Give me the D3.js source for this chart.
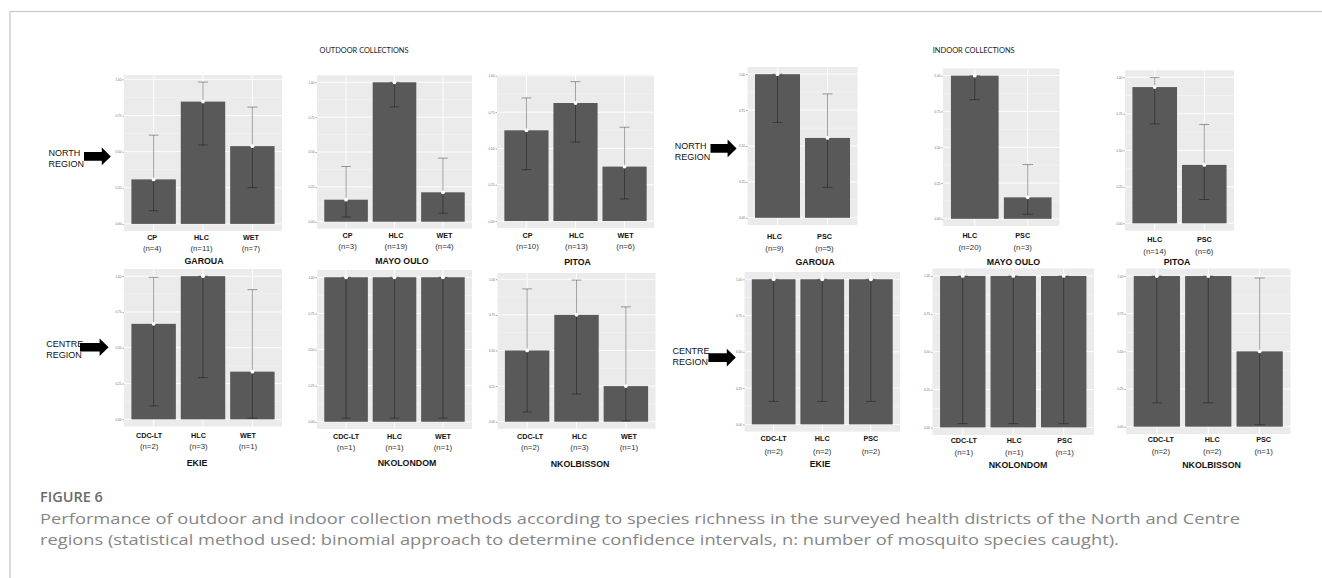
<!DOCTYPE html>
<html>
<head>
<meta charset="utf-8">
<script src="https://cdn.jsdelivr.net/npm/d3@7"></script>
<style>
  html, body { margin: 0; padding: 0; background: #ffffff; }
  svg { display: block; }
</style>
</head>
<body>
<svg id="fig" width="1322" height="578"></svg>
<script>
// ---------------- data ----------------
// panels: outdoor North (3), indoor North (3), outdoor Centre (3), indoor Centre (3)
const sites = ["GAROUA", "MAYO OULO", "PITOA", "GAROUA", "MAYO OULO", "PITOA",
               "EKIE", "NKOLONDOM", "NKOLBISSON", "EKIE", "NKOLONDOM", "NKOLBISSON"];
const methods = [
  ["CP", "HLC", "WET"], ["CP", "HLC", "WET"], ["CP", "HLC", "WET"],
  ["HLC", "PSC"], ["HLC", "PSC"], ["HLC", "PSC"],
  ["CDC-LT", "HLC", "WET"], ["CDC-LT", "HLC", "WET"], ["CDC-LT", "HLC", "WET"],
  ["CDC-LT", "HLC", "PSC"], ["CDC-LT", "HLC", "PSC"], ["CDC-LT", "HLC", "PSC"]
];
const speciesN = [
  [4, 11, 7], [3, 19, 4], [10, 13, 6],
  [9, 5], [20, 3], [14, 6],
  [2, 3, 1], [1, 1, 1], [2, 3, 1],
  [2, 2, 2], [1, 1, 1], [2, 2, 1]
];
const proportion = [
  [0.308, 0.846, 0.538], [0.158, 1.000, 0.211], [0.625, 0.813, 0.375],
  [1.000, 0.556], [1.000, 0.150], [0.933, 0.400],
  [0.667, 1.000, 0.333], [1.000, 1.000, 1.000], [0.500, 0.750, 0.250],
  [1.000, 1.000, 1.000], [1.000, 1.000, 1.000], [1.000, 1.000, 0.500]
];
const ciLow = [
  [0.091, 0.546, 0.251], [0.034, 0.824, 0.061], [0.354, 0.544, 0.152],
  [0.664, 0.212], [0.832, 0.032], [0.681, 0.163],
  [0.094, 0.292, 0.008], [0.025, 0.025, 0.025], [0.068, 0.194, 0.006],
  [0.158, 0.158, 0.158], [0.025, 0.025, 0.025], [0.158, 0.158, 0.013]
];
const ciHigh = [
  [0.614, 0.981, 0.808], [0.396, 1.000, 0.456], [0.848, 0.960, 0.646],
  [1.000, 0.863], [1.000, 0.379], [0.998, 0.677],
  [0.992, 1.000, 0.906], [1.000, 1.000, 1.000], [0.932, 0.994, 0.806],
  [1.000, 1.000, 1.000], [1.000, 1.000, 1.000], [1.000, 1.000, 0.987]
];
const yTicks = [0, 0.25, 0.5, 0.75, 1];
const groupTitles = ["OUTDOOR COLLECTIONS", "INDOOR COLLECTIONS"];
const regionNames = [["NORTH", "REGION"], ["CENTRE", "REGION"]];
const figureLabel = "FIGURE 6";
const captionLines = [
  "Performance of outdoor and indoor collection methods according to species richness in the surveyed health districts of the North and Centre",
  "regions (statistical method used: binomial approach to determine confidence intervals, n: number of mosquito species caught)."
];

// ---------------- layout ----------------
const panelBox = [
  { x0: 124,   x1: 282,    y0: 75,    y1: 231,   catY: 237,   nY: 248.3, catDx: -1.5, siteX: 204,    siteY: 261 },
  { x0: 317,   x1: 472,    y0: 75.3,  y1: 228.7, catY: 235.5, nY: 246.7, catDx: 1.5,  siteX: 402,    siteY: 260.5 },
  { x0: 497,   x1: 654,    y0: 74.7,  y1: 228,   catY: 235,   nY: 246.7, catDx: 1,    siteX: 577.5,  siteY: 261.5 },
  { x0: 747.5, x1: 857.5,  y0: 67,    y1: 225,   catY: 236.7, nY: 247.8, catDx: -3,   siteX: 815,    siteY: 261.7 },
  { x0: 943,   x1: 1059.5, y0: 68.5,  y1: 226,   catY: 235,   nY: 246.8, catDx: -5,   siteX: 1013.5, siteY: 261.7 },
  { x0: 1125,  x1: 1234,   y0: 70.3,  y1: 230.6, catY: 239.3, nY: 251,   catDx: 0,    siteX: 1177,   siteY: 261.7 },
  { x0: 124,   x1: 282,    y0: 269,   y1: 426.5, catY: 435,   nY: 446.5, catDx: -4.5, siteX: 197,    siteY: 462.7 },
  { x0: 317,   x1: 472,    y0: 270,   y1: 429,   catY: 436,   nY: 446.8, catDx: 0,    siteX: 407,    siteY: 462.7 },
  { x0: 497.5, x1: 655.5,  y0: 273,   y1: 428.8, catY: 436.5, nY: 447.5, catDx: 3,    siteX: 580,    siteY: 463.3 },
  { x0: 744.5, x1: 900,    y0: 272,   y1: 431.6, catY: 438.5, nY: 451,   catDx: 0,    siteX: 820,    siteY: 463.3 },
  { x0: 932.5, x1: 1094,   y0: 268.4, y1: 435,   catY: 440.5, nY: 452,   catDx: 1,    siteX: 1018,   siteY: 465 },
  { x0: 1126,  x1: 1290.5, y0: 268.5, y1: 434.2, catY: 439.3, nY: 451.7, catDx: 4,    siteX: 1211.6, siteY: 464.3 }
];
const titleLayout = [
  { x: 364, y: 53, len: 89 },
  { x: 973.7, y: 53, len: 82 }
];
const regionLayout = [
  { region: 0, tx: 48.4,  ty: 152.7, ax0: 84,    ax1: 110.8, ay: 156.4 },
  { region: 0, tx: 674.7, ty: 145.7, ax0: 710.5, ax1: 736.6, ay: 148.4 },
  { region: 1, tx: 46.3,  ty: 344,   ax0: 80,    ax1: 108.6, ay: 347.2 },
  { region: 1, tx: 672.6, ty: 351,   ax0: 708.4, ax1: 735.8, ay: 357.6 }
];
const captionLayout = { x: 40, labelY: 501.5, firstY: 524, lineGap: 21, width: 1200 };

const SANS = "'Liberation Sans', Arial, sans-serif";
const svg = d3.select("#fig");

// figure frame
svg.append("rect")
  .attr("x", 10).attr("y", 11.5).attr("width", 1400).attr("height", 700)
  .attr("fill", "none").attr("stroke", "#c9c9c9").attr("stroke-width", 1.3);

// group titles
titleLayout.forEach((t, i) => {
  svg.append("text")
    .attr("x", t.x).attr("y", t.y)
    .attr("text-anchor", "middle")
    .attr("textLength", t.len).attr("lengthAdjust", "spacingAndGlyphs")
    .style("font-family", "Lato, 'Open Sans', sans-serif")
    .style("font-size", "7.6px").attr("fill", "#222")
    .text(groupTitles[i]);
});

// region labels with block arrows
regionLayout.forEach(r => {
  const g = svg.append("g");
  regionNames[r.region].forEach((line, k) => {
    g.append("text")
      .attr("x", r.tx).attr("y", r.ty + k * 10.6 + 3.2)
      .style("font-family", SANS).style("font-size", "9px").attr("fill", "#111")
      .text(line);
  });
  const sh = 4.3, hh = 8.8, hl = 9;
  const p = d3.path();
  p.moveTo(r.ax0, r.ay - sh);
  p.lineTo(r.ax1 - hl, r.ay - sh);
  p.lineTo(r.ax1 - hl, r.ay - hh);
  p.lineTo(r.ax1, r.ay);
  p.lineTo(r.ax1 - hl, r.ay + hh);
  p.lineTo(r.ax1 - hl, r.ay + sh);
  p.lineTo(r.ax0, r.ay + sh);
  p.closePath();
  g.append("path").attr("d", p.toString()).attr("fill", "#000");
});

// minor grid values sit halfway between tick values
const minorTicks = d3.pairs(yTicks).map(([a, b]) => (a + b) / 2);

panelBox.forEach((box, i) => {
  const cats = methods[i];
  const x = d3.scaleBand().domain(cats).range([box.x0, box.x1])
    .paddingInner(0.1).paddingOuter(0.15);
  const top = d3.max(ciHigh[i].concat(proportion[i]));
  const y = d3.scaleLinear().domain([-0.05 * top, 1.05 * top]).range([box.y1, box.y0]);
  const g = svg.append("g");

  // panel background and grid
  g.append("rect")
    .attr("x", box.x0).attr("y", box.y0)
    .attr("width", box.x1 - box.x0).attr("height", box.y1 - box.y0)
    .attr("fill", "#ebebeb");
  g.selectAll("line.minor").data(minorTicks.filter(v => v <= y.domain()[1])).join("line")
    .attr("x1", box.x0).attr("x2", box.x1)
    .attr("y1", d => y(d)).attr("y2", d => y(d))
    .attr("stroke", "#f6f6f6").attr("stroke-width", 0.5);
  g.selectAll("line.major").data(yTicks.filter(v => v <= y.domain()[1])).join("line")
    .attr("x1", box.x0).attr("x2", box.x1)
    .attr("y1", d => y(d)).attr("y2", d => y(d))
    .attr("stroke", "#ffffff").attr("stroke-width", 0.9);
  g.selectAll("line.vgrid").data(cats).join("line")
    .attr("x1", d => x(d) + x.bandwidth() / 2).attr("x2", d => x(d) + x.bandwidth() / 2)
    .attr("y1", box.y0).attr("y2", box.y1)
    .attr("stroke", "#ffffff").attr("stroke-width", 0.9);

  // y axis
  const axis = g.append("g")
    .attr("transform", `translate(${box.x0},0)`)
    .call(d3.axisLeft(y).tickValues(yTicks.filter(v => v <= y.domain()[1]))
      .tickFormat(d3.format(".2f")).tickSize(1.6).tickPadding(1));
  axis.select(".domain").remove();
  axis.selectAll(".tick line").attr("stroke", "#555").attr("stroke-width", 0.5);
  axis.selectAll(".tick text")
    .style("font-family", SANS).style("font-size", "3px").attr("fill", "#666");

  const rows = cats.map((c, k) => ({
    cat: c, n: speciesN[i][k], v: proportion[i][k], lo: ciLow[i][k], hi: ciHigh[i][k]
  }));

  // bars
  g.selectAll("rect.bar").data(rows).join("rect")
    .attr("x", d => x(d.cat)).attr("width", x.bandwidth())
    .attr("y", d => y(d.v)).attr("height", d => y(0) - y(d.v))
    .attr("fill", "#595959");

  // error bars
  const capW = x.step() * 0.2;
  const eb = g.selectAll("g.eb").data(rows).join("g")
    .attr("stroke", "#000").attr("stroke-opacity", 0.36).attr("stroke-width", 1);
  eb.append("line")
    .attr("x1", d => x(d.cat) + x.bandwidth() / 2).attr("x2", d => x(d.cat) + x.bandwidth() / 2)
    .attr("y1", d => y(d.lo)).attr("y2", d => y(d.hi));
  eb.append("line")
    .attr("x1", d => x(d.cat) + x.bandwidth() / 2 - capW / 2).attr("x2", d => x(d.cat) + x.bandwidth() / 2 + capW / 2)
    .attr("y1", d => y(d.hi)).attr("y2", d => y(d.hi));
  eb.append("line")
    .attr("x1", d => x(d.cat) + x.bandwidth() / 2 - capW / 2).attr("x2", d => x(d.cat) + x.bandwidth() / 2 + capW / 2)
    .attr("y1", d => y(d.lo)).attr("y2", d => y(d.lo));

  // point estimates
  g.selectAll("circle.pt").data(rows).join("circle")
    .attr("cx", d => x(d.cat) + x.bandwidth() / 2).attr("cy", d => y(d.v))
    .attr("r", 1.9).attr("fill", "#ffffff");

  // category and count labels
  g.selectAll("text.cat").data(rows).join("text")
    .attr("x", d => x(d.cat) + x.bandwidth() / 2 + box.catDx)
    .attr("y", box.catY + 2.6)
    .attr("text-anchor", "middle")
    .style("font-family", SANS).style("font-size", "7.2px").style("font-weight", "bold")
    .attr("fill", "#111")
    .text(d => d.cat);
  g.selectAll("text.n").data(rows).join("text")
    .attr("x", d => x(d.cat) + x.bandwidth() / 2 + box.catDx)
    .attr("y", box.nY + 2.7)
    .attr("text-anchor", "middle")
    .style("font-family", SANS).style("font-size", "7.8px")
    .attr("fill", "#333")
    .text(d => `(n=${d.n})`);

  // site name
  g.append("text")
    .attr("x", box.siteX).attr("y", box.siteY + 3.2)
    .attr("text-anchor", "middle")
    .style("font-family", SANS).style("font-size", "8.8px").style("font-weight", "bold")
    .attr("fill", "#111")
    .text(sites[i]);
});

// caption
const cap = svg.append("g");
cap.append("text")
  .attr("x", captionLayout.x).attr("y", captionLayout.labelY)
  .style("font-family", "'Open Sans', sans-serif").style("font-size", "14.5px")
  .style("font-weight", 600).attr("fill", "#6b6b6b")
  .text(figureLabel);
const captionText = captionLines.map((line, k) => cap.append("text")
  .attr("x", captionLayout.x).attr("y", captionLayout.firstY + k * captionLayout.lineGap)
  .style("font-family", "'Open Sans', sans-serif").style("font-size", "15px")
  .attr("fill", "#868686")
  .text(line));
// the caption face runs wide: stretch both lines by the same factor so the
// first line spans the text column
const stretch = captionLayout.width / captionText[0].node().getComputedTextLength();
captionText.forEach(t => {
  const w = t.node().getComputedTextLength() * stretch;
  t.attr("textLength", w).attr("lengthAdjust", "spacingAndGlyphs");
});
</script>
</body>
</html>
